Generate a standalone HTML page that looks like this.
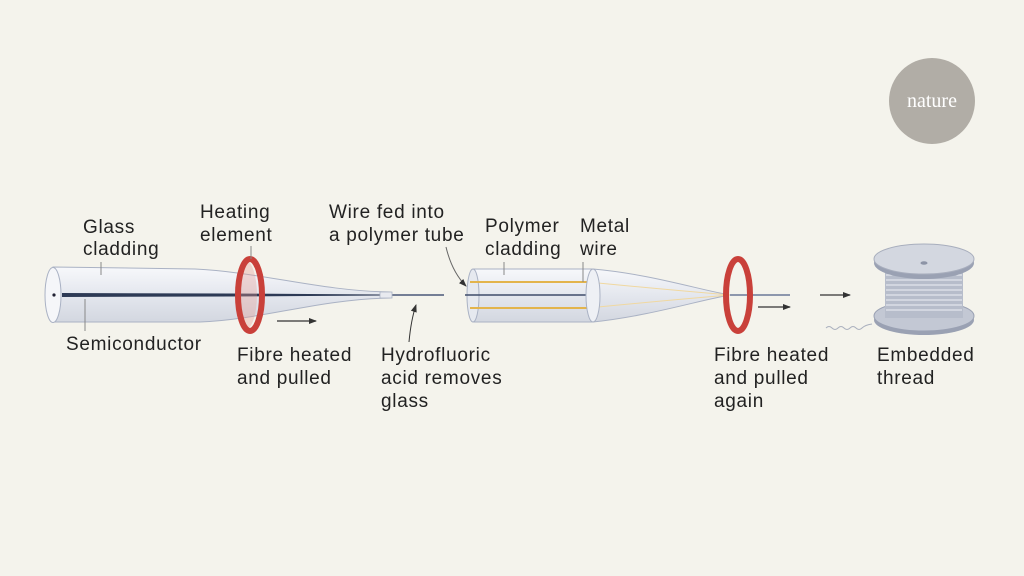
<!DOCTYPE html>
<html><head><meta charset="utf-8"><style>
html,body{margin:0;padding:0;background:#f4f3ec;}
svg{display:block}
text{font-family:"Liberation Sans",sans-serif;font-size:19px;fill:#222;letter-spacing:0.7px}
</style></head><body>
<svg width="1024" height="576" viewBox="0 0 1024 576" xmlns="http://www.w3.org/2000/svg">
<defs>
<linearGradient id="g" x1="0" y1="0" x2="0" y2="1">
<stop offset="0" stop-color="#f7f8fb"/><stop offset="0.5" stop-color="#e4e7ee"/><stop offset="1" stop-color="#d3d7e0"/></linearGradient>
<marker id="ah" markerWidth="8" markerHeight="8" refX="7" refY="4" orient="auto" markerUnits="userSpaceOnUse"><path d="M0,1 L8,4 L0,7 Z" fill="#333"/></marker>
</defs>
<rect width="1024" height="576" fill="#f4f3ec"/>
<circle cx="932" cy="101" r="43" fill="#b1ada6"/>
<text x="932" y="107" text-anchor="middle" style="font-family:'Liberation Serif',serif;font-size:20px;fill:#fff;letter-spacing:0">nature</text>

<path d="M53,267 L195,269 C260,272 320,291 390,292 L390,298 C320,299 260,320 200,322 L53,322 Z" fill="url(#g)" stroke="#aab2c4" stroke-width="1"/>
<ellipse cx="53" cy="295" rx="8" ry="27.5" fill="#f5f6f9" stroke="#aab2c4"/>
<circle cx="54" cy="295" r="1.6" fill="#223"/>
<path d="M62,293 L230,293.5 L390,294.6 L390,295.4 L230,296.5 L62,297 Z" fill="#2d3a55"/>
<line x1="390" y1="295" x2="444" y2="295" stroke="#4a5878" stroke-width="1.5"/>
<rect x="380" y="292" width="12" height="6" fill="#e8eaef" stroke="#aab2c4" stroke-width="0.8"/>
<ellipse cx="246" cy="295" rx="11" ry="34" fill="#e59b91" opacity="0.35"/>
<ellipse cx="250" cy="295" rx="12" ry="36" fill="none" stroke="#c9403a" stroke-width="6"/>
<line x1="101" y1="262" x2="101" y2="275" stroke="#888"/>
<line x1="85" y1="299" x2="85" y2="331" stroke="#888"/>
<line x1="251" y1="246" x2="251" y2="259" stroke="#888"/>
<line x1="277" y1="321" x2="316" y2="321" stroke="#333" stroke-width="1.2" marker-end="url(#ah)"/>
<path d="M409,342 Q411,320 416,305" fill="none" stroke="#333" stroke-width="1" marker-end="url(#ah)"/>
<path d="M446,247 Q452,272 466,286" fill="none" stroke="#666" stroke-width="1" marker-end="url(#ah)"/>

<path d="M593,269 C650,274 700,290 730,295 C700,300 650,316 593,322 Z" fill="url(#g)" stroke="#aab2c4"/>
<path d="M598,283 Q670,290 730,295" stroke="#f0d8a0" fill="none"/>
<path d="M598,307 Q670,300 730,295" stroke="#f0d8a0" fill="none"/>
<rect x="473" y="269" width="120" height="53" fill="url(#g)" stroke="#aab2c4"/>
<ellipse cx="473" cy="295.5" rx="6" ry="26.5" fill="#e6e9ef" stroke="#aab2c4"/>
<line x1="470" y1="282" x2="593" y2="282" stroke="#e3b44c" stroke-width="2"/>
<line x1="470" y1="308" x2="593" y2="308" stroke="#e3b44c" stroke-width="2"/>
<line x1="465" y1="295" x2="593" y2="295" stroke="#3f4c6a" stroke-width="1.5"/>
<ellipse cx="593" cy="295.5" rx="7" ry="26.5" fill="#eef0f5" stroke="#aab2c4"/>
<line x1="504" y1="262" x2="504" y2="275" stroke="#888"/>
<line x1="583" y1="262" x2="583" y2="282" stroke="#888"/>
<line x1="730" y1="295" x2="790" y2="295" stroke="#8d97ad" stroke-width="2"/>
<ellipse cx="738" cy="295" rx="12" ry="36" fill="none" stroke="#c9403a" stroke-width="6"/>
<line x1="758" y1="307" x2="790" y2="307" stroke="#333" stroke-width="1.2" marker-end="url(#ah)"/>
<line x1="820" y1="295" x2="850" y2="295" stroke="#333" stroke-width="1.2" marker-end="url(#ah)"/>

<ellipse cx="924" cy="320" rx="50" ry="15" fill="#9aa1b3"/>
<ellipse cx="924" cy="316" rx="50" ry="15" fill="#c3c8d4" stroke="#9aa1b3"/>
<rect x="885" y="263" width="78" height="55" fill="#b7bdcb"/>
<g stroke="#eef0f4" stroke-width="1">
<line x1="886" y1="270" x2="962" y2="270"/><line x1="886" y1="275" x2="962" y2="275"/><line x1="886" y1="280" x2="962" y2="280"/><line x1="886" y1="285" x2="962" y2="285"/><line x1="886" y1="290" x2="962" y2="290"/><line x1="886" y1="295" x2="962" y2="295"/><line x1="886" y1="300" x2="962" y2="300"/><line x1="886" y1="305" x2="962" y2="305"/><line x1="886" y1="310" x2="962" y2="310"/></g>
<ellipse cx="924" cy="263" rx="50" ry="16" fill="#9aa1b3"/>
<ellipse cx="924" cy="259" rx="50" ry="15" fill="#d3d7e0" stroke="#a8aebd"/>
<ellipse cx="924" cy="263" rx="3.5" ry="1.8" fill="#8d94a6"/>
<path d="M826,328 q3,-3 6,0 t6,0 t6,0 t6,0 t6,0 t6,0 t10,-4" fill="none" stroke="#aab0be" stroke-width="1"/>

<text x="83" y="233">Glass</text><text x="83" y="255">cladding</text>
<text x="200" y="218">Heating</text><text x="200" y="241">element</text>
<text x="329" y="218">Wire fed into</text><text x="329" y="241">a polymer tube</text>
<text x="485" y="232">Polymer</text><text x="485" y="255">cladding</text>
<text x="580" y="232">Metal</text><text x="580" y="255">wire</text>
<text x="66" y="350">Semiconductor</text>
<text x="237" y="361">Fibre heated</text><text x="237" y="384">and pulled</text>
<text x="381" y="361">Hydrofluoric</text><text x="381" y="384">acid removes</text><text x="381" y="407">glass</text>
<text x="714" y="361">Fibre heated</text><text x="714" y="384">and pulled</text><text x="714" y="407">again</text>
<text x="877" y="361">Embedded</text><text x="877" y="384">thread</text>
</svg>
</body></html>
